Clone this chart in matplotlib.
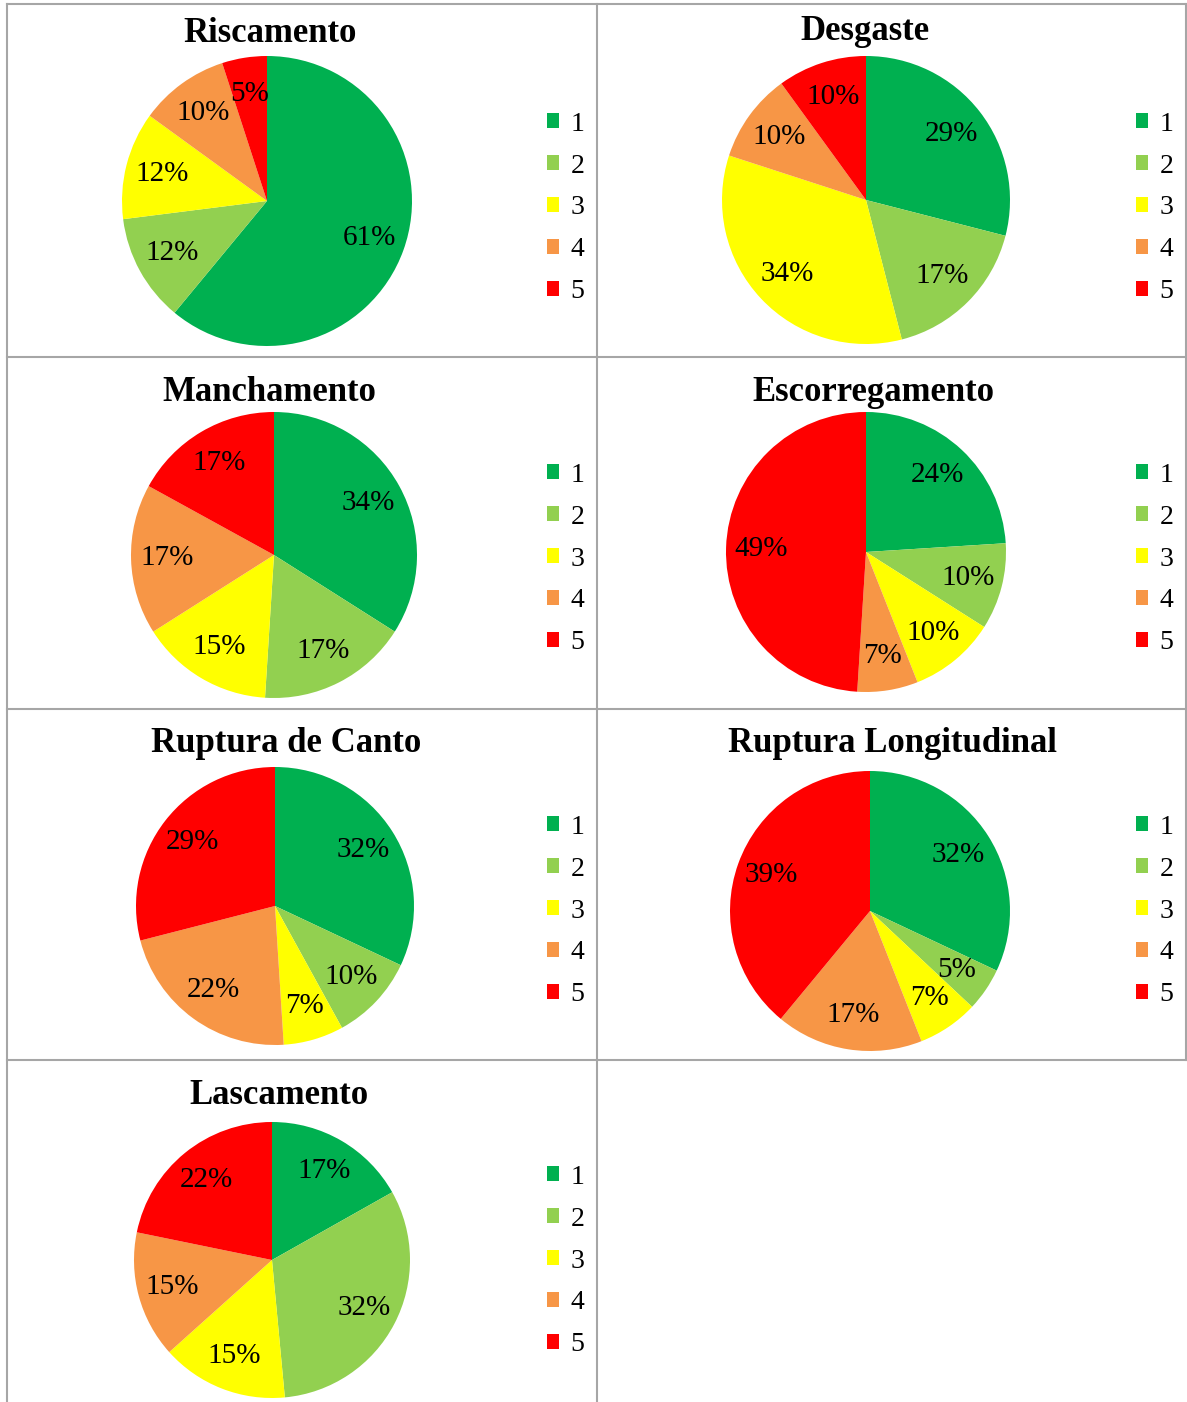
import matplotlib.pyplot as plt
from matplotlib.lines import Line2D

plt.rcParams['font.family'] = ['Liberation Serif', 'DejaVu Serif']
serif = ['Liberation Serif', 'DejaVu Serif']

# Data
categories = ['1', '2', '3', '4', '5']
colors = ['#00B050', '#92D050', '#FFFF00', '#F79646', '#FF0000']

titles = ['Riscamento', 'Desgaste', 'Manchamento', 'Escorregamento',
          'Ruptura de Canto', 'Ruptura Longitudinal', 'Lascamento']
riscamento = [61, 12, 12, 10, 5]
desgaste = [29, 17, 34, 10, 10]
manchamento = [34, 17, 15, 17, 17]
escorregamento = [24, 10, 10, 7, 49]
ruptura_canto = [32, 10, 7, 22, 29]
ruptura_longitudinal = [32, 5, 7, 17, 39]
lascamento = [17, 32, 15, 15, 22]
series = [riscamento, desgaste, manchamento, escorregamento,
          ruptura_canto, ruptura_longitudinal, lascamento]

W, H = 1187, 1402
fig = plt.figure(figsize=(W / 100, H / 100), dpi=100)

# layout in pixels: pie centre x, centre y, radius, title x, title y, legend x, legend y
layout = [
    (267, 201, 145, 270, 34, 533, 208),
    (866, 200, 144, 865, 32, 1122, 208),
    (274, 555, 143, 269, 392, 533, 559),
    (866, 552, 140, 873, 392, 1122, 559),
    (275, 906, 139, 286, 744, 533, 911),
    (870, 911, 140, 893, 744, 1122, 911),
    (272, 1260, 138, 279, 1096, 533, 1261),
]

for (cx, cy, r, tx, ty, lx, ly), title, vals in zip(layout, titles, series):
    pad = 1.03
    ax = fig.add_axes([(cx - r * pad) / W, 1 - (cy + r * pad) / H,
                       2 * r * pad / W, 2 * r * pad / H])
    wedges, _, autotexts = ax.pie(vals, colors=colors, startangle=90, counterclock=False,
                                  autopct=lambda p: f'{p:.0f}%', pctdistance=0.75,
                                  textprops={'fontsize': 21, 'color': 'black',
                                             'family': serif})
    ax.set_xlim(-pad, pad)
    ax.set_ylim(-pad, pad)
    ax.set_aspect('equal')
    ax.axis('off')
    fig.text(tx / W, 1 - ty / H, title, ha='center', va='center',
             fontsize=25, fontweight='bold', family=serif)
    fig.legend(wedges, categories, loc='center left',
               bbox_to_anchor=(lx / W, 1 - ly / H), frameon=False,
               prop={'family': serif, 'size': 20},
               handlelength=0.45, handleheight=0.45,
               handletextpad=0.4, labelspacing=0.61, borderpad=0)

# table grid lines
grid_color = '#A6A6A6'
def hline(y, x0, x1):
    fig.add_artist(Line2D([x0 / W, x1 / W], [1 - y / H, 1 - y / H], color=grid_color, lw=1.5))
def vline(x, y0, y1):
    fig.add_artist(Line2D([x / W, x / W], [1 - y0 / H, 1 - y1 / H], color=grid_color, lw=1.5))

hline(4, 7, W)
hline(357, 7, W)
hline(709, 7, W)
hline(1060, 7, W)
vline(7, 4, H)
vline(597, 4, H)
vline(1186, 4, 1060)

fig.savefig('out.png', dpi=100, facecolor='white')
